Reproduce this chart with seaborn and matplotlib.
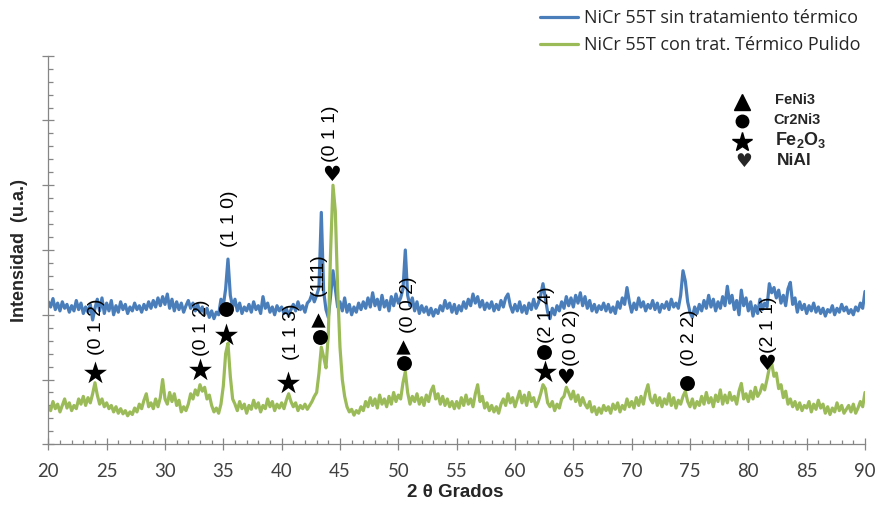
import numpy as np
import pandas as pd
import matplotlib
matplotlib.use("Agg")
import matplotlib.pyplot as plt
import seaborn as sns
from matplotlib.ticker import MultipleLocator

sns.set_theme(style="white")
plt.rcParams['font.family'] = ['Liberation Sans', 'DejaVu Sans']
plt.rcParams['mathtext.fontset'] = 'custom'
plt.rcParams['mathtext.rm'] = 'Liberation Sans'
plt.rcParams['mathtext.bf'] = 'Liberation Sans:bold'

# ---------------- data (2theta sampled every 0.2 degrees) ----------------
two_theta = np.round(np.arange(20.0, 90.0001, 0.2), 1)

series_names = ["NiCr 55T sin tratamiento térmico", "NiCr 55T con trat. Térmico Pulido"]
series_colors = ["#4A7EBB", "#9BBB59"]

sin_tratamiento = (
    # 20.0 - 24.8
    [2.20, 2.12, 2.25, 2.08, 2.18, 2.06, 2.20, 2.10, 2.16, 2.04, 2.14, 2.06, 2.22,
     2.08, 2.18, 2.02, 2.12, 2.04, 2.16, 1.92, 2.10, 2.24, 2.06, 2.26, 2.02]
    # 25.0 - 29.8
    + [2.18, 2.06, 2.22, 2.00, 2.14, 2.04, 2.20, 2.08, 2.16, 2.02, 2.12, 2.06, 2.18,
       2.08, 2.14, 2.04, 2.16, 2.08, 2.20, 2.10, 2.22, 2.12, 2.26, 2.14, 2.28]
    # 30.0 - 34.8
    + [2.16, 2.32, 2.10, 2.24, 2.06, 2.20, 2.08, 2.18, 2.04, 2.14, 2.22, 2.10, 2.18,
       2.06, 2.16, 2.04, 2.12, 2.00, 2.10, 1.96, 2.06, 1.94, 2.04, 2.00, 2.24]
    # 35.0 - 39.8
    + [2.14, 2.40, 2.86, 2.30, 2.12, 2.24, 2.06, 2.18, 2.02, 2.12, 2.06, 2.16, 2.04,
       2.20, 2.08, 2.14, 2.02, 2.28, 2.10, 2.18, 2.04, 2.12, 2.00, 2.14, 2.06]
    # 40.0 - 44.8
    + [2.12, 2.02, 2.10, 1.98, 2.08, 2.16, 2.06, 2.20, 2.08, 2.14, 2.04, 2.18, 2.22,
       2.32, 2.20, 2.30, 2.42, 3.58, 2.36, 2.08, 1.96, 2.30, 2.68, 2.40, 2.12]
    # 45.0 - 49.8
    + [2.20, 2.06, 2.26, 2.04, 2.16, 2.00, 2.12, 2.04, 2.18, 2.08, 2.20, 2.10, 2.26,
       2.12, 2.34, 2.14, 2.24, 2.08, 2.30, 2.12, 2.22, 2.06, 2.28, 2.14, 2.32]
    # 50.0 - 54.8
    + [2.18, 2.26, 2.40, 3.00, 2.30, 2.14, 2.26, 2.06, 2.20, 2.02, 2.14, 2.04, 2.12,
       2.00, 2.10, 1.98, 2.08, 2.02, 2.14, 2.06, 2.22, 2.10, 2.18, 2.04, 2.16]
    # 55.0 - 59.8
    + [2.02, 2.14, 2.06, 2.20, 2.10, 2.24, 2.14, 2.32, 2.18, 2.28, 2.12, 2.22, 2.08,
       2.18, 2.10, 2.20, 2.06, 2.16, 2.08, 2.22, 2.12, 2.26, 2.32, 2.14, 2.04]
    # 60.0 - 64.8
    + [2.16, 2.06, 2.20, 2.04, 2.14, 2.02, 2.18, 2.08, 2.24, 2.10, 2.18, 2.30, 2.48,
       2.26, 2.04, 1.94, 2.10, 2.00, 2.14, 2.06, 2.20, 2.10, 2.28, 2.14, 2.26]
    # 65.0 - 69.8
    + [2.12, 2.30, 2.18, 2.34, 2.14, 2.28, 2.10, 2.22, 2.06, 2.16, 2.04, 2.14, 2.08,
       2.18, 2.06, 2.16, 2.04, 2.12, 2.02, 2.20, 2.10, 2.26, 2.16, 2.42, 2.20]
    # 70.0 - 74.8
    + [2.04, 2.18, 2.08, 2.26, 2.12, 2.20, 2.06, 2.16, 2.10, 2.22, 2.08, 2.18, 2.04,
       2.16, 2.10, 2.20, 2.08, 2.24, 2.12, 2.18, 2.10, 2.30, 2.68, 2.52, 2.20]
    # 75.0 - 79.8
    + [2.04, 1.96, 2.12, 2.02, 2.16, 2.06, 2.22, 2.10, 2.30, 2.12, 2.24, 2.06, 2.20,
       2.10, 2.28, 2.14, 2.44, 2.18, 2.30, 2.08, 2.22, 2.00, 2.38, 2.14, 2.26]
    # 80.0 - 84.8
    + [2.06, 2.20, 1.98, 2.14, 2.02, 2.24, 2.08, 2.18, 2.12, 2.48, 2.34, 2.42, 2.26,
       2.38, 2.18, 2.30, 2.14, 2.40, 2.50, 2.16, 2.26, 2.04, 2.20, 2.08, 2.16]
    # 85.0 - 90.0
    + [2.02, 2.14, 2.06, 2.18, 2.04, 2.12, 2.02, 2.10, 1.98, 2.08, 2.04, 2.14, 2.00,
       2.10, 2.04, 2.16, 2.06, 2.12, 2.02, 2.08, 2.00, 2.12, 2.06, 2.18, 2.10, 2.36]
)

con_tratamiento = (
    # 20.0 - 24.8
    [0.58, 0.52, 0.66, 0.55, 0.62, 0.50, 0.60, 0.70, 0.56, 0.64, 0.52, 0.60, 0.55,
     0.70, 0.62, 0.74, 0.60, 0.72, 0.64, 0.78, 0.95, 0.76, 0.62, 0.70, 0.58]
    # 25.0 - 29.8
    + [0.64, 0.55, 0.60, 0.50, 0.58, 0.48, 0.55, 0.47, 0.52, 0.44, 0.50, 0.46, 0.56,
       0.50, 0.62, 0.55, 0.68, 0.78, 0.58, 0.64, 0.55, 0.70, 0.58, 0.72, 1.00]
    # 30.0 - 34.8
    + [0.70, 0.62, 0.80, 0.66, 0.78, 0.60, 0.68, 0.50, 0.58, 0.52, 0.62, 0.78, 0.70,
       0.84, 0.76, 0.92, 0.82, 0.88, 0.70, 0.76, 0.60, 0.50, 0.56, 0.48, 0.62]
    # 35.0 - 39.8
    + [0.90, 1.40, 1.56, 1.05, 0.70, 0.62, 0.52, 0.66, 0.55, 0.62, 0.48, 0.60, 0.54,
       0.68, 0.56, 0.64, 0.50, 0.60, 0.55, 0.70, 0.58, 0.66, 0.52, 0.62, 0.56]
    # 40.0 - 44.8
    + [0.64, 0.55, 0.68, 0.78, 0.66, 0.58, 0.64, 0.52, 0.60, 0.55, 0.62, 0.54, 0.60,
       0.66, 0.74, 0.80, 1.10, 1.50, 1.35, 1.18, 1.70, 3.00, 4.00, 3.60, 2.40]
    # 45.0 - 49.8
    + [1.50, 1.00, 0.74, 0.58, 0.50, 0.54, 0.45, 0.52, 0.48, 0.58, 0.52, 0.66, 0.58,
       0.72, 0.60, 0.70, 0.56, 0.76, 0.62, 0.70, 0.58, 0.74, 0.62, 0.80, 0.66]
    # 50.0 - 54.8
    + [0.76, 0.70, 0.95, 1.12, 0.80, 0.62, 0.74, 0.66, 0.78, 0.62, 0.72, 0.60, 0.76,
       0.66, 0.82, 0.90, 0.70, 0.78, 0.62, 0.74, 0.60, 0.70, 0.58, 0.66, 0.55]
    # 55.0 - 59.8
    + [0.66, 0.56, 0.72, 0.60, 0.76, 0.62, 0.70, 0.58, 0.78, 0.92, 0.66, 0.74, 0.56,
       0.64, 0.52, 0.60, 0.50, 0.58, 0.48, 0.62, 0.70, 0.60, 0.78, 0.64, 0.72]
    # 60.0 - 64.8
    + [0.58, 0.70, 0.82, 0.64, 0.76, 0.60, 0.80, 0.66, 0.72, 0.58, 0.66, 0.78, 0.92,
       0.86, 0.64, 0.58, 0.66, 0.52, 0.62, 0.56, 0.70, 0.74, 0.88, 0.80, 0.70]
    # 65.0 - 69.8
    + [0.82, 0.66, 0.76, 0.60, 0.72, 0.62, 0.56, 0.66, 0.50, 0.58, 0.46, 0.56, 0.48,
       0.60, 0.52, 0.58, 0.48, 0.62, 0.54, 0.64, 0.50, 0.60, 0.54, 0.70, 0.58]
    # 70.0 - 74.8
    + [0.66, 0.56, 0.72, 0.60, 0.74, 0.62, 0.80, 0.92, 0.70, 0.64, 0.76, 0.60, 0.72,
       0.58, 0.70, 0.62, 0.78, 0.60, 0.72, 0.56, 0.68, 0.62, 0.74, 0.82, 0.66]
    # 75.0 - 79.8
    + [0.58, 0.70, 0.56, 0.66, 0.60, 0.74, 0.62, 0.80, 0.64, 0.72, 0.58, 0.76, 0.66,
       0.84, 0.62, 0.76, 0.64, 0.80, 0.68, 0.74, 0.62, 0.82, 0.94, 0.70, 0.78]
    # 80.0 - 84.8
    + [0.66, 0.82, 0.70, 0.88, 0.74, 0.80, 0.92, 0.84, 1.00, 1.18, 1.25, 1.05, 1.10,
       0.86, 0.92, 0.72, 0.82, 0.62, 0.70, 0.58, 0.66, 0.54, 0.64, 0.52, 0.60]
    # 85.0 - 90.0
    + [0.56, 0.66, 0.50, 0.62, 0.54, 0.68, 0.56, 0.62, 0.48, 0.58, 0.46, 0.56, 0.50,
       0.64, 0.52, 0.60, 0.48, 0.54, 0.60, 0.50, 0.62, 0.48, 0.56, 0.66, 0.58, 0.80]
)

# peak annotations: (label, x of label, y of label)
peak_labels = ["(0 1 2)", "(0 1 2)", "(1 1 0)", "(1 1 3)", "(111)", "(0 1 1)",
               "(0 0 2)", "(2 1 4)", "(0 0 2)", "(0 2 2)", "(2 1 1)"]
peak_label_x = [24.15, 33.1, 35.57, 40.86, 43.1, 44.15, 50.86, 62.7, 64.86, 75.0, 81.71]
peak_label_y = [1.82, 1.80, 3.48, 1.74, 2.62, 4.80, 2.15, 2.00, 1.64, 1.65, 1.84]

# phase symbols placed on the peaks
star_x = [24.0, 33.0, 35.23, 40.57, 62.57]
star_y = [1.10, 1.14, 1.69, 0.94, 1.12]
circle_x = [35.23, 43.3, 50.5, 62.49, 74.72]
circle_y = [2.09, 1.65, 1.25, 1.43, 0.95]
triangle_x = [43.14, 50.43]
triangle_y = [1.92, 1.51]
heart_x = [44.29, 64.29, 81.52]
heart_y = [4.16, 1.02, 1.24]

phase_names = ["FeNi3", "Cr2Ni3", r"Fe$_\mathbf{2}$O$_\mathbf{3}$", "NiAl"]

df = pd.DataFrame({
    "2θ": np.concatenate([two_theta, two_theta]),
    "I": np.concatenate([sin_tratamiento, con_tratamiento]),
    "serie": [series_names[0]] * len(two_theta) + [series_names[1]] * len(two_theta),
})

W, H = 880, 505
fig = plt.figure(figsize=(W / 100, H / 100), dpi=100)
ax = fig.add_axes([48.3 / W, 1 - 444.3 / H, (865 - 48.3) / W, (444.3 - 55.7) / H])

sns.lineplot(data=df, x="2θ", y="I", hue="serie", palette=dict(zip(series_names, series_colors)),
             linewidth=2.3, sort=False, estimator=None, ax=ax, legend=False)

ax.set_xlim(20, 90)
ax.set_ylim(0, 6)
ax.set_xlabel("")
ax.set_ylabel("")

for s in ["top", "right"]:
    ax.spines[s].set_visible(False)
for s in ["left", "bottom"]:
    ax.spines[s].set_color("#868686")
    ax.spines[s].set_linewidth(0.9)

ax.xaxis.set_major_locator(MultipleLocator(5))
ax.xaxis.set_minor_locator(MultipleLocator(1))
ax.yaxis.set_major_locator(MultipleLocator(1))
ax.yaxis.set_minor_locator(MultipleLocator(0.2))
ax.tick_params(axis="x", which="major", direction="inout", length=8.6, width=0.9,
               color="#868686", labelsize=13.4, labelcolor="#404040", pad=9,
               labelfontfamily="Lato", bottom=True)
ax.tick_params(axis="x", which="minor", direction="in", length=3.0, width=0.9,
               color="#868686", bottom=True)
ax.tick_params(axis="y", which="major", direction="inout", length=8.6, width=0.9,
               color="#868686", labelleft=False, left=True)
ax.tick_params(axis="y", which="minor", direction="in", length=3.6, width=0.9,
               color="#868686", left=True)

# phase symbols
ax.scatter(star_x, star_y, marker="*", s=300, color="black", zorder=5, linewidths=0)
ax.scatter(circle_x, circle_y, marker="o", s=115, color="black", zorder=5, linewidths=0)
ax.scatter(triangle_x, triangle_y, marker="^", s=105, color="black", zorder=5, linewidths=0)
for hx, hy in zip(heart_x, heart_y):
    ax.text(hx, hy, "♥", fontsize=15, ha="center", va="center", color="black", zorder=5,
            family=["DejaVu Sans"])

for lab, lx, ly in zip(peak_labels, peak_label_x, peak_label_y):
    ax.text(lx, ly, lab, rotation=90, fontsize=14, ha="center", va="center",
            color="black", zorder=6)

# axis titles
fig.text(455 / W, 1 - 497 / H, "2 θ Grados", fontsize=13.5, fontweight="bold",
         ha="center", va="baseline")
fig.text(19 / W, 1 - 250 / H, "Intensidad  (u.a.)", fontsize=13, fontweight="bold",
         rotation=90, ha="center", va="center")

# series legend
handles = ax.get_lines()[:2]
fig.legend(handles, series_names, loc="upper left", bbox_to_anchor=(540 / W, 1 - 9 / H),
           frameon=False, prop={"family": "Open Sans", "size": 13}, handlelength=2.1,
           handletextpad=0.35, labelspacing=0.5, borderpad=0, borderaxespad=0)

# phase legend
sym_x = 742
ax.plot([sym_x / W], [1 - 102 / H], marker="^", ms=12, color="black", ls="none",
        transform=fig.transFigure, clip_on=False)
ax.plot([sym_x / W], [1 - 121 / H], marker="o", ms=9, color="black", ls="none",
        transform=fig.transFigure, clip_on=False)
ax.plot([sym_x / W], [1 - 142 / H], marker="*", ms=15, color="black", ls="none",
        transform=fig.transFigure, clip_on=False)
fig.text(744 / W, 1 - 161 / H, "♥", fontsize=13.5, ha="center", va="center",
         family=["DejaVu Sans"])
phase_y = [100, 120, 140, 160]
phase_size = [10.5, 10.5, 13, 12.5]
phase_x = [775, 773, 775, 777]
for name, px, py, fs in zip(phase_names, phase_x, phase_y, phase_size):
    fig.text(px / W, 1 - py / H, name, fontsize=fs, fontweight="bold",
             ha="left", va="center")

fig.savefig("out.png", dpi=100)
